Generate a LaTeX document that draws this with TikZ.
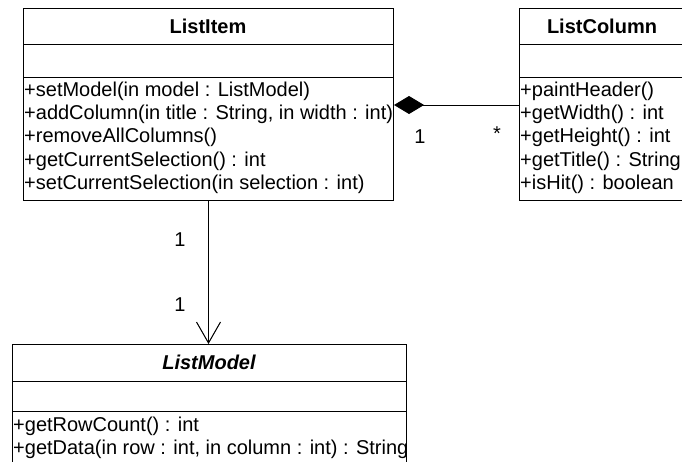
\documentclass[tikz,border=0pt]{standalone}
\usepackage{fontspec}
\setmainfont{Liberation Sans}
\usetikzlibrary{arrows.meta}
\begin{document}
\begin{tikzpicture}[x=1pt,y=-1pt,
  box/.style={draw=black,line width=1pt,inner sep=0pt,anchor=north west},
  sep/.style={line width=1pt},
  title/.style={inner sep=0pt,font=\fontsize{20}{24}\selectfont\bfseries},
  row/.style={anchor=west,inner sep=0pt,text height=14pt,text depth=4pt,font=\fontsize{20}{24}\selectfont},
  mult/.style={inner sep=0pt,font=\fontsize{20}{24}\selectfont},
  conn/.style={line width=1pt}]
\useasboundingbox (0,0) rectangle (682,461);
\clip (0,0) rectangle (682,461);
% ListItem
\node[box,minimum width=370pt,minimum height=192pt] (li) at (23,8) {};
\draw[sep] (li.west |- 0,44) -- (li.east |- 0,44);
\draw[sep] (li.west |- 0,77) -- (li.east |- 0,77);
\node[title] (lit) at (208,26) {ListItem};
\node[row] (li1) at (24,91) {+setModel(in model : ListModel)};
\node[row] (li2) at (24,114) {+addColumn(in title : String, in width : int)};
\node[row] (li3) at (24,137) {+removeAllColumns()};
\node[row] (li4) at (24,161) {+getCurrentSelection() : int};
\node[row] (li5) at (24,184) {+setCurrentSelection(in selection : int)};
% ListColumn
\node[box,minimum width=166pt,minimum height=192pt] (lc) at (519,8) {};
\draw[sep] (lc.west |- 0,44) -- (lc.east |- 0,44);
\draw[sep] (lc.west |- 0,77) -- (lc.east |- 0,77);
\node[title] (lct) at (602,26) {ListColumn};
\node[row] (lc1) at (520,91) {+paintHeader()};
\node[row] (lc2) at (520,114) {+getWidth() : int};
\node[row] (lc3) at (520,137) {+getHeight() : int};
\node[row] (lc4) at (520,161) {+getTitle() : String};
\node[row] (lc5) at (520,184) {+isHit() : boolean};
% ListModel
\node[box,minimum width=394pt,minimum height=130pt] (lm) at (12,344) {};
\draw[sep] (lm.west |- 0,381) -- (lm.east |- 0,381);
\draw[sep] (lm.west |- 0,411) -- (lm.east |- 0,411);
\node[title,font=\fontsize{20}{24}\selectfont\bfseries\itshape] (lmt) at (209,362) {ListModel};
\node[row] (lm1) at (13,426) {+getRowCount() : int};
\node[row] (lm2) at (13,449) {+getData(in row : int, in column : int) : String};
% connectors
\coordinate (cA) at (lc.west |- 0,105);
\coordinate (cB) at (li.east |- 0,105);
\draw[conn,-{Diamond[length=30pt,width=18pt]}] (cA) -- (cB);
\draw[conn,-{Straight Barb[length=21pt,width=24pt]}] (li.south) -- (li.south |- lm.north);
\node[mult] (m1) at (420,137) {1};
\node[mult] (m2) at (497,134) {*};
\node[mult] (m3) at (180,240) {1};
\node[mult] (m4) at (180,305) {1};
\end{tikzpicture}
\end{document}
